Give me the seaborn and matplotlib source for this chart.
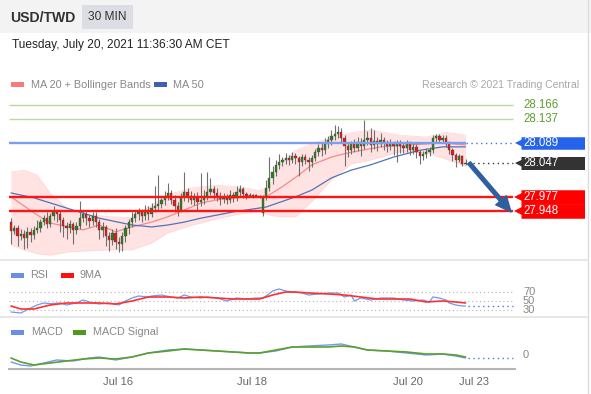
import matplotlib
matplotlib.use("Agg")
import matplotlib.pyplot as plt
import seaborn as sns
from matplotlib.patches import Rectangle
from matplotlib.lines import Line2D

# 30 min candles, oldest first
opens = [
    27.925, 27.907, 27.913, 27.896, 27.901, 27.892, 27.905, 27.899, 27.909, 27.913,
    27.925, 27.934, 27.921, 27.938, 27.946, 27.942, 27.929, 27.917, 27.913, 27.921,
    27.909, 27.917, 27.934, 27.942, 27.934, 27.927, 27.938, 27.925, 27.909, 27.915,
    27.896, 27.888, 27.903, 27.884, 27.880, 27.896, 27.913, 27.925, 27.934, 27.942,
    27.946, 27.938, 27.950, 27.942, 27.954, 27.958, 27.962, 27.971, 27.979, 27.985,
    27.971, 27.958, 27.950, 27.975, 27.987, 27.979, 27.971, 27.977, 27.966, 27.971,
    27.979, 27.987, 27.993, 27.985, 27.979, 27.973, 27.977, 27.971, 27.981, 27.975,
    27.987, 27.993, 27.983, 27.979, 27.981, 27.979, 27.979, 27.944, 27.977, 27.995,
    28.016, 28.028, 28.043, 28.049, 28.053, 28.057, 28.053, 28.061, 28.057, 28.049,
    28.059, 28.053, 28.049, 28.057, 28.069, 28.078, 28.073, 28.086, 28.094, 28.102,
    28.106, 28.110, 28.098, 28.082, 28.073, 28.086, 28.078, 28.090, 28.082, 28.094,
    28.098, 28.084, 28.092, 28.086, 28.094, 28.088, 28.082, 28.086, 28.082, 28.088,
    28.082, 28.078, 28.086, 28.073, 28.080, 28.069, 28.061, 28.065, 28.069, 28.073,
    28.098, 28.102, 28.094, 28.098, 28.086, 28.073, 28.063, 28.053, 28.061, 28.045]
highs = [
    27.933, 27.920, 27.918, 27.910, 27.908, 27.915, 27.912, 27.916, 27.930, 27.931,
    27.940, 27.945, 27.944, 27.958, 27.952, 27.948, 27.935, 27.925, 27.930, 27.926,
    27.925, 27.968, 27.950, 27.948, 27.940, 27.945, 27.946, 27.932, 27.925, 27.920,
    27.905, 27.910, 27.912, 27.895, 27.904, 27.920, 27.932, 27.945, 27.950, 27.955,
    27.952, 27.960, 27.958, 27.965, 28.000, 28.022, 27.975, 27.990, 28.006, 27.992,
    27.980, 27.966, 27.985, 28.028, 27.995, 27.990, 27.985, 27.988, 28.026, 27.992,
    28.028, 28.015, 28.000, 27.995, 27.988, 27.985, 27.982, 27.992, 27.988, 28.000,
    28.002, 27.998, 27.988, 27.984, 27.983, 27.982, 27.981, 27.980, 28.012, 28.059,
    28.040, 28.052, 28.065, 28.060, 28.067, 28.064, 28.070, 28.068, 28.062, 28.066,
    28.066, 28.060, 28.064, 28.075, 28.086, 28.090, 28.098, 28.102, 28.115, 28.125,
    28.122, 28.118, 28.104, 28.090, 28.092, 28.096, 28.100, 28.098, 28.135, 28.112,
    28.118, 28.114, 28.100, 28.108, 28.100, 28.095, 28.096, 28.092, 28.094, 28.095,
    28.090, 28.094, 28.092, 28.088, 28.086, 28.074, 28.072, 28.078, 28.080, 28.104,
    28.106, 28.106, 28.104, 28.104, 28.092, 28.078, 28.068, 28.066, 28.064, 28.056]
lows = [
    27.880, 27.900, 27.875, 27.889, 27.870, 27.872, 27.884, 27.890, 27.902, 27.905,
    27.918, 27.912, 27.915, 27.930, 27.926, 27.905, 27.895, 27.890, 27.902, 27.880,
    27.900, 27.910, 27.925, 27.920, 27.915, 27.920, 27.915, 27.890, 27.895, 27.875,
    27.866, 27.878, 27.870, 27.863, 27.865, 27.885, 27.900, 27.915, 27.926, 27.930,
    27.925, 27.930, 27.930, 27.935, 27.945, 27.948, 27.955, 27.960, 27.970, 27.962,
    27.945, 27.938, 27.945, 27.968, 27.966, 27.962, 27.960, 27.950, 27.958, 27.962,
    27.970, 27.980, 27.972, 27.968, 27.960, 27.965, 27.962, 27.965, 27.966, 27.968,
    27.978, 27.975, 27.972, 27.976, 27.975, 27.976, 27.974, 27.937, 27.970, 27.990,
    28.004, 28.020, 28.035, 28.040, 28.045, 28.042, 28.046, 28.045, 28.020, 28.040,
    28.044, 28.030, 28.038, 28.050, 28.062, 28.062, 28.066, 28.078, 28.084, 28.095,
    28.098, 28.090, 28.041, 28.060, 28.066, 28.070, 28.072, 28.062, 28.076, 28.084,
    28.070, 28.076, 28.072, 28.080, 28.074, 28.070, 28.074, 28.064, 28.049, 28.068,
    28.068, 28.070, 28.064, 28.066, 28.058, 28.045, 28.052, 28.058, 28.062, 28.068,
    28.090, 28.088, 28.090, 28.080, 28.066, 28.050, 28.038, 28.048, 28.040, 28.042]
closes = [
    27.907, 27.913, 27.896, 27.901, 27.892, 27.905, 27.899, 27.909, 27.913, 27.925,
    27.934, 27.921, 27.938, 27.946, 27.942, 27.929, 27.917, 27.913, 27.921, 27.909,
    27.917, 27.934, 27.942, 27.934, 27.927, 27.938, 27.925, 27.909, 27.915, 27.896,
    27.888, 27.903, 27.884, 27.880, 27.896, 27.913, 27.925, 27.934, 27.942, 27.946,
    27.938, 27.950, 27.942, 27.954, 27.958, 27.962, 27.971, 27.979, 27.985, 27.971,
    27.958, 27.950, 27.975, 27.987, 27.979, 27.971, 27.977, 27.966, 27.971, 27.979,
    27.987, 27.993, 27.985, 27.979, 27.973, 27.977, 27.971, 27.981, 27.975, 27.987,
    27.993, 27.983, 27.979, 27.981, 27.979, 27.979, 27.977, 27.977, 27.995, 28.016,
    28.028, 28.043, 28.049, 28.053, 28.057, 28.053, 28.061, 28.057, 28.049, 28.059,
    28.053, 28.049, 28.057, 28.069, 28.078, 28.073, 28.086, 28.094, 28.102, 28.106,
    28.110, 28.098, 28.082, 28.073, 28.086, 28.078, 28.090, 28.082, 28.094, 28.098,
    28.084, 28.092, 28.086, 28.094, 28.088, 28.082, 28.086, 28.082, 28.088, 28.082,
    28.078, 28.086, 28.073, 28.080, 28.069, 28.061, 28.065, 28.069, 28.073, 28.098,
    28.102, 28.094, 28.098, 28.086, 28.073, 28.063, 28.053, 28.061, 28.045, 28.047]

# moving averages / bands, read at a few candles
ma20_idx = [0, 7, 12, 22, 27, 32, 37, 43, 48, 53, 58, 63, 68, 73, 78, 83, 88, 92, 98, 104, 113, 122, 132, 139]
ma20 = [27.977, 27.944, 27.923, 27.909, 27.919, 27.905, 27.915, 27.925, 27.936, 27.950,
        27.964, 27.971, 27.975, 27.977, 27.977, 27.998, 28.022, 28.043, 28.059, 28.069,
        28.080, 28.084, 28.088, 28.084]
ma50_idx = [0, 7, 17, 27, 37, 43, 48, 53, 58, 68, 78, 87, 92, 98, 104, 110, 117, 125, 132, 139]
ma50 = [27.985, 27.975, 27.954, 27.933, 27.919, 27.915, 27.919, 27.925, 27.933, 27.946,
        27.956, 27.977, 27.991, 28.016, 28.032, 28.043, 28.059, 28.073, 28.080, 28.080]
bb_idx = [0, 4, 8, 12, 18, 24, 30, 37, 43, 48, 55, 63, 70, 76, 79, 82, 87, 92, 98, 104, 110, 119, 127, 133, 139]
bb_upper = [28.028, 28.032, 28.022, 27.984, 27.948, 27.940, 27.936, 27.934, 27.960, 27.981,
            27.995, 28.001, 27.997, 27.990, 27.995, 28.045, 28.073, 28.086, 28.100, 28.109,
            28.115, 28.104, 28.100, 28.110, 28.104]
bb_lower = [27.878, 27.868, 27.860, 27.857, 27.864, 27.866, 27.868, 27.868, 27.882, 27.903,
            27.918, 27.932, 27.942, 27.946, 27.940, 27.936, 27.936, 27.968, 28.012, 28.045,
            28.053, 28.070, 28.068, 28.055, 28.040]

# key levels
resistances = [28.166, 28.137]
pivot = 28.089
last_price = 28.047
supports = [27.977, 27.948]

# RSI panel
rsi_idx = [0, 3, 6, 8, 10, 12, 15, 17, 20, 22, 25, 27, 30, 33, 35, 37, 39, 42, 43, 46,
           49, 51, 53, 55, 58, 60, 63, 66, 69, 72, 75, 77, 78, 80, 82, 84, 86, 89, 91, 94,
           97, 100, 102, 104, 105, 107, 110, 113, 117, 120, 123, 126, 128, 129, 131, 133, 134, 136, 138, 139]
rsi = [25.6, 23.3, 34.4, 41.1, 45.6, 44.0, 45.6, 41.1, 45.6, 52.2,
       45.6, 43.3, 45.6, 41.1, 50.0, 56.7, 61.1, 58.9, 61.1, 63.3,
       58.9, 56.7, 63.3, 58.9, 56.7, 58.9, 56.7, 50.0, 56.7, 54.4,
       56.7, 56.7, 61.1, 72.2, 76.7, 72.2, 70.0, 67.8, 63.3, 65.6,
       67.8, 67.8, 58.9, 63.3, 50.0, 56.7, 52.2, 56.7, 56.7, 52.2,
       50.0, 52.2, 47.8, 58.9, 56.7, 52.2, 45.6, 41.1, 38.9, 38.9]
rsi_ma_idx = [0, 3, 7, 12, 17, 22, 27, 32, 37, 42, 48, 53, 58, 63, 68, 73, 76, 80, 84, 87,
              91, 97, 102, 107, 112, 117, 122, 127, 132, 136, 139]
rsi_ma = [38.9, 32.2, 32.2, 41.1, 45.6, 45.6, 45.6, 43.3, 50.0, 58.9,
          58.9, 56.7, 58.9, 56.7, 54.4, 54.4, 54.4, 63.3, 70.0, 70.0,
          67.8, 65.6, 63.3, 58.9, 54.4, 54.4, 54.4, 47.8, 50.0, 47.8, 45.6]
rsi_levels = [70, 50, 30]

# MACD panel
macd_idx = [0, 3, 6, 10, 14, 19, 24, 27, 32, 37, 42, 48, 53, 58, 63, 68, 73, 76, 81, 86,
            91, 97, 101, 105, 109, 115, 121, 127, 132, 136, 139]
macd = [-0.007, -0.010, -0.011, -0.008, -0.005, -0.006, -0.003, -0.002, -0.005, -0.002,
        0.002, 0.005, 0.006, 0.005, 0.004, 0.003, 0.002, 0.002, 0.004, 0.008,
        0.009, 0.010, 0.011, 0.008, 0.005, 0.004, 0.002, 0.000, 0.001, -0.001, -0.003]
signal_idx = [0, 3, 7, 12, 17, 22, 27, 32, 37, 42, 48, 53, 58, 63, 68, 73, 76, 81, 86, 91,
              97, 101, 105, 109, 115, 121, 127, 132, 136, 139]
signal = [-0.003, -0.007, -0.010, -0.008, -0.006, -0.004, -0.003, -0.004, -0.002, 0.002,
          0.004, 0.006, 0.005, 0.004, 0.003, 0.002, 0.002, 0.005, 0.008, 0.008,
          0.008, 0.009, 0.008, 0.005, 0.004, 0.003, 0.001, 0.001, 0.000, -0.002]

date_ticks = [32.7, 73.7, 121.4, 141.6]
date_labels = ["Jul 16", "Jul 18", "Jul 20", "Jul 23"]

sns.set_style("white")
plt.rcParams["font.family"] = ["Liberation Sans", "DejaVu Sans"]

W, H = 591, 394
fig = plt.figure(figsize=(W / 100, H / 100), dpi=100)


def box(x0, y0, x1, y1):
    # pixel box (top-left origin) -> figure fraction rect
    return [x0 / W, 1 - y1 / H, (x1 - x0) / W, (y1 - y0) / H]


def px2i(px):
    # horizontal pixel -> candle index
    return (px - 11) / 3.27


def fy(py):
    return 1 - py / H


# header
fig.add_artist(Rectangle((0, fy(33)), 1, 33 / H, transform=fig.transFigure, color="#f3f3f3", lw=0, zorder=0))
fig.add_artist(Rectangle((82 / W, fy(29)), 51 / W, 24 / H, transform=fig.transFigure, color="#dcdee3", lw=0))
fig.text(10 / W, fy(18), "USD/TWD", fontsize=10.1, fontweight="bold", color="#333333", va="center")
fig.text(107.5 / W, fy(17.5), "30 MIN", fontsize=8.6, color="#333333", va="center", ha="center")
fig.text(12 / W, fy(45), "Tuesday, July 20, 2021 11:36:30 AM CET", fontsize=8.6, color="#222222", va="center")
fig.text(579 / W, fy(84.5), "Research \u00a9 2021 Trading Central", fontsize=7.6, color="#a8a8a8",
         va="center", ha="right")


def legend_item(x, y, color, label, gap=20):
    fig.add_artist(Rectangle((x / W, fy(y + 2.5)), 13 / W, 5 / H, transform=fig.transFigure, color=color, lw=0))
    fig.text((x + gap) / W, fy(y), label, fontsize=7.8, color="#888888", va="center")


legend_item(11, 84.5, "#f47c7c", "MA 20 + Bollinger Bands")
legend_item(154, 84.5, "#3d64a8", "MA 50", gap=19)
legend_item(11, 275, "#6a8ee8", "RSI", gap=19)
legend_item(61, 275, "#ff1010", "9MA", gap=19)
legend_item(11, 332, "#6a8ee8", "MACD", gap=20)
legend_item(73, 332, "#4e9a1e", "MACD Signal", gap=20)

# separators / frame
for yy in (260, 317):
    fig.add_artist(Line2D([0, 587 / W], [fy(yy), fy(yy)], transform=fig.transFigure, color="#e3e3e3", lw=1.2))
fig.add_artist(Line2D([587.5 / W, 587.5 / W], [0, 1], transform=fig.transFigure, color="#dcdcdc", lw=1.0))

# ---------------- main price panel ----------------
ax = fig.add_axes(box(9, 93, 585, 258))
ax.set_xlim(px2i(9), px2i(585))
ax.set_ylim(27.851, 28.191)
ax.axis("off")

ax.fill_between(bb_idx, bb_lower, bb_upper, color="#ffe3e3", lw=0, zorder=1)
sns.lineplot(x=bb_idx, y=bb_upper, ax=ax, color="#ffd8d8", linewidth=0.6, zorder=1, legend=False)
sns.lineplot(x=bb_idx, y=bb_lower, ax=ax, color="#ffd8d8", linewidth=0.6, zorder=1, legend=False)
sns.lineplot(x=ma20_idx, y=ma20, ax=ax, color="#f48a8a", linewidth=0.9, zorder=2, legend=False)
sns.lineplot(x=ma50_idx, y=ma50, ax=ax, color="#4f74bb", linewidth=0.9, zorder=2, legend=False)

idx = list(range(len(closes)))
ax.vlines(idx, lows, highs, color="#6f6f6f", lw=0.8, zorder=3)
body_bottom = [min(o, c) for o, c in zip(opens, closes)]
body_height = [max(abs(c - o), 0.002) for o, c in zip(opens, closes)]
body_color = ["#2f7d1f" if c >= o else "#dd1c1c" for o, c in zip(opens, closes)]
ax.bar(idx, body_height, bottom=body_bottom, width=0.7, color=body_color,
       edgecolor="#444444", linewidth=0.25, zorder=3)

# levels
x_left, x_right = px2i(9), px2i(513)
ax.hlines(resistances, x_left, x_right, color="#b9dba0", lw=1.0, zorder=4)
ax.hlines(pivot, x_left, px2i(466), color="#7a9ff0", lw=1.7, zorder=4)
ax.hlines(pivot, px2i(466), x_right, color="#3f6fe0", lw=1.0, ls=(0, (1, 2.5)), zorder=4)
ax.hlines(last_price, px2i(468), x_right, color="#333333", lw=1.0, ls=(0, (1, 2.5)), zorder=4)
ax.hlines(supports, x_left, x_right, color="#ff1414", lw=1.7, zorder=4)


def tag(level, color, height_px, text_color="white"):
    ax.plot([px2i(521), px2i(585)], [level, level], lw=height_px * 0.72, color=color,
            solid_capstyle="butt", zorder=5)
    ax.plot([px2i(521)], [level], marker="<", ms=height_px * 0.72, color=color, mew=0, zorder=5)
    ax.text(px2i(523), level, f"{level:.3f}", color=text_color, fontsize=8.3, va="center", ha="left", zorder=6)


for lvl in resistances:
    ax.text(px2i(523), lvl, f"{lvl:.3f}", color="#5aa02c", fontsize=8.3, va="center", ha="left")
tag(pivot, "#2563eb", 12.5)
tag(last_price, "#333333", 13)
for lvl in supports:
    tag(lvl, "#ff0000", 14.5)

ax.annotate("", xy=(px2i(511), 27.946), xytext=(px2i(469), last_price),
            arrowprops=dict(color="#2f5f9f", width=2.6, headwidth=10, headlength=11, shrink=0),
            zorder=7)

# ---------------- RSI panel ----------------
ax_r = fig.add_axes(box(9, 283, 515, 314))
ax_r.set_xlim(px2i(9), px2i(515))
ax_r.set_ylim(21.1, 90)
ax_r.axis("off")
ax_r.hlines(rsi_levels, px2i(9), px2i(513), color="#b4b4b4", lw=0.8, ls=(0, (1, 2.5)))
sns.lineplot(x=rsi_idx, y=rsi, ax=ax_r, color="#7398ec", linewidth=0.9, legend=False)
sns.lineplot(x=rsi_ma_idx, y=rsi_ma, ax=ax_r, color="#ff3030", linewidth=1.2, legend=False)
ax_r.hlines(rsi[-1], px2i(468), px2i(513), color="#4a78e6", lw=1.0, ls=(0, (1, 2.5)))
for lv in rsi_levels:
    ax_r.text(px2i(523), lv, str(lv), fontsize=8, color="#888888", va="center", ha="left", clip_on=False)

# ---------------- MACD panel ----------------
ax_m = fig.add_axes(box(9, 338, 515, 369))
ax_m.set_xlim(px2i(9), px2i(515))
ax_m.set_ylim(-0.014, 0.017)
sns.lineplot(x=macd_idx, y=macd, ax=ax_m, color="#7398ec", linewidth=1.0, legend=False)
sns.lineplot(x=signal_idx, y=signal, ax=ax_m, color="#5aa02c", linewidth=1.2, legend=False)
ax_m.hlines(macd[-1], px2i(468), px2i(513), color="#4a78e6", lw=1.0, ls=(0, (1, 2.5)))
ax_m.text(px2i(523), 0, "0", fontsize=8, color="#888888", va="center", ha="left", clip_on=False)

for side in ("top", "left", "right"):
    ax_m.spines[side].set_visible(False)
ax_m.spines["bottom"].set_color("#b5b5b5")
ax_m.spines["bottom"].set_linewidth(1.5)
ax_m.set_yticks([])
ax_m.set_xticks(date_ticks, date_labels)
ax_m.tick_params(axis="x", which="major", length=0, pad=6, labelsize=8, labelcolor="#666666")
ax_m.set_xticks([px2i(9.7), px2i(514)], minor=True)
ax_m.tick_params(axis="x", which="minor", length=4, width=1.5, color="#b5b5b5", direction="out")
ax_m.set_xlabel("")
ax_m.set_ylabel("")
ax_r.set_xlabel("")
ax.set_xlabel("")

fig.savefig("out.png", dpi=100)
